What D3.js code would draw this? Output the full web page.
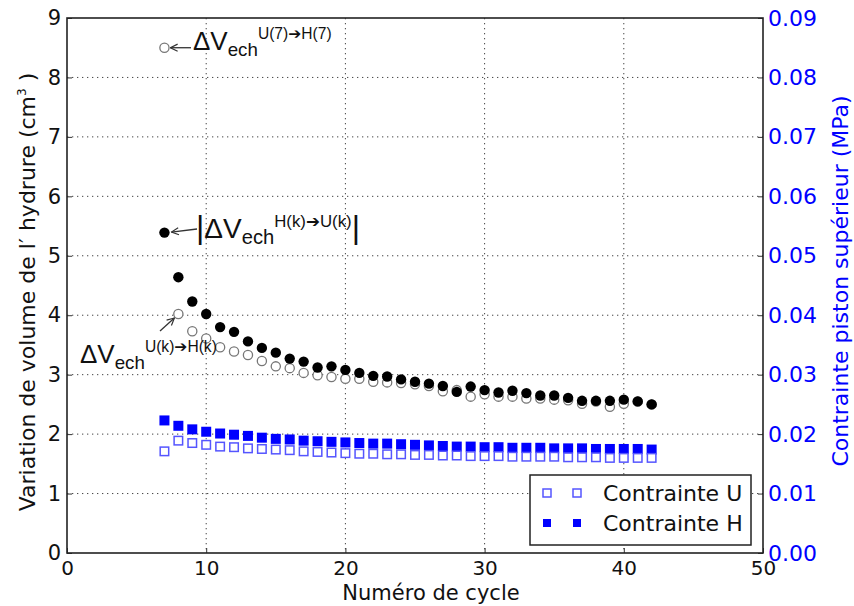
<!DOCTYPE html>
<html><head><meta charset="utf-8">
<script src="https://cdn.jsdelivr.net/npm/d3@7"></script>
<style>body{margin:0;background:#fff}svg{display:block}</style>
</head><body>
<script>
const cycles = d3.range(7, 43);
const dvHU = [5.39,4.64,4.23,4.02,3.80,3.72,3.56,3.45,3.37,3.27,3.22,3.12,3.14,3.08,3.03,2.98,2.97,2.92,2.88,2.85,2.81,2.71,2.80,2.74,2.70,2.73,2.69,2.65,2.65,2.61,2.56,2.56,2.56,2.58,2.55,2.50];
const dvUH = [8.50,4.02,3.73,3.61,3.46,3.39,3.33,3.23,3.14,3.11,3.03,2.99,2.96,2.93,2.93,2.88,2.87,2.86,2.84,2.81,2.72,2.74,2.63,2.67,2.63,2.63,2.60,2.60,2.58,2.57,2.51,2.55,2.46,2.51,2.55,2.50];
const stressH = [0.0223,0.0214,0.0208,0.0204,0.0201,0.0199,0.0197,0.0194,0.0192,0.0191,0.0189,0.0188,0.0187,0.0186,0.0185,0.0184,0.0184,0.0183,0.0182,0.0181,0.0180,0.0179,0.0179,0.0178,0.0178,0.0177,0.0177,0.0177,0.0176,0.0176,0.0176,0.0175,0.0175,0.0175,0.0175,0.0174];
const stressU = [0.0171,0.0189,0.0185,0.0182,0.0179,0.0178,0.0176,0.0175,0.0174,0.0173,0.0171,0.0170,0.0169,0.0168,0.0167,0.0167,0.0166,0.0166,0.0165,0.0165,0.0164,0.0164,0.0163,0.0163,0.0163,0.0162,0.0162,0.0162,0.0162,0.0161,0.0161,0.0161,0.0160,0.0160,0.0160,0.0160];
const xTicks = [0,10,20,30,40,50];
const yTicks = [0,1,2,3,4,5,6,7,8,9];
const y2Ticks = [0,0.01,0.02,0.03,0.04,0.05,0.06,0.07,0.08,0.09];
const legendLabels = ["Contrainte U","Contrainte H"];

const W=854,H=606, L=67,R=763,T=18,B=553;
const svg=d3.select("body").append("svg").attr("width",W).attr("height",H);
const x=d3.scaleLinear().domain([0,50]).range([L,R]);
const y=d3.scaleLinear().domain([0,9]).range([B,T]);
const y2=d3.scaleLinear().domain([0,0.09]).range([B,T]);

const defs=svg.append("defs");
defs.append("marker").attr("id","ah").attr("viewBox","0 0 10 10").attr("refX",9).attr("refY",5)
 .attr("markerWidth",9).attr("markerHeight",9).attr("orient","auto").attr("markerUnits","userSpaceOnUse")
 .append("path").attr("d","M1,1 L9,5 L1,9").attr("fill","none").attr("stroke","#333").attr("stroke-width",1.3);

// grid
const g=svg.append("g");
g.selectAll(".gx").data(xTicks.slice(1,-1)).join("line").attr("x1",d=>x(d)).attr("x2",d=>x(d)).attr("y1",T).attr("y2",B)
 .attr("stroke","#444").attr("stroke-width",1).attr("stroke-dasharray","1.3,3.7");
g.selectAll(".gy").data(yTicks.slice(1,-1)).join("line").attr("y1",d=>y(d)).attr("y2",d=>y(d)).attr("x1",L).attr("x2",R)
 .attr("stroke","#444").attr("stroke-width",1).attr("stroke-dasharray","1.3,3.7");

// axes
const fTick="'DejaVu Sans',sans-serif";
const ax=svg.append("g").attr("transform",`translate(0,${B})`).call(d3.axisBottom(x).tickValues(xTicks).tickSize(-5).tickPadding(5).tickFormat(d3.format("d")));
ax.select(".domain").remove();
ax.selectAll("text").attr("font-family",fTick).attr("font-size",20).attr("fill","#111").attr("dy","0.85em");
ax.selectAll("line").attr("stroke","#333");
const ay=svg.append("g").attr("transform",`translate(${L},0)`).call(d3.axisLeft(y).tickValues(yTicks).tickSize(-5).tickPadding(6).tickFormat(d3.format("d")));
ay.select(".domain").remove();
ay.selectAll("text").attr("font-family",fTick).attr("font-size",21).attr("fill","#111");
ay.selectAll("line").attr("stroke","#333");
const ay2=svg.append("g").attr("transform",`translate(${R},0)`).call(d3.axisRight(y2).tickValues(y2Ticks).tickSize(-5).tickPadding(5).tickFormat(d3.format(".2f")));
ay2.select(".domain").remove();
ay2.selectAll("text").attr("font-family",fTick).attr("font-size",22).attr("fill","#0000ff");
ay2.selectAll("line").attr("stroke","#333");

// data: squares
const s=10;
svg.append("g").selectAll("rect").data(cycles).join("rect")
 .attr("x",(d)=>x(d)-s/2).attr("y",(d,i)=>y2(stressH[i])-s/2).attr("width",s).attr("height",s).attr("fill","#0000ff");
svg.append("g").selectAll("rect").data(cycles).join("rect")
 .attr("x",(d)=>x(d)-s/2+0.75).attr("y",(d,i)=>y2(stressU[i])-s/2+0.75).attr("width",s-1.5).attr("height",s-1.5)
 .attr("fill","#fff").attr("stroke","#5555ff").attr("stroke-width",1.5);
// circles
svg.append("g").selectAll("circle").data(cycles).join("circle")
 .attr("cx",d=>x(d)).attr("cy",(d,i)=>y(dvUH[i])).attr("r",4.6).attr("fill","#fff").attr("stroke","#777").attr("stroke-width",1.3);
svg.append("g").selectAll("circle").data(cycles).join("circle")
 .attr("cx",d=>x(d)).attr("cy",(d,i)=>y(dvHU[i])).attr("r",5.2).attr("fill","#000");

// frame
svg.append("rect").attr("x",L).attr("y",T).attr("width",R-L).attr("height",B-T).attr("fill","none").attr("stroke","#222").attr("stroke-width",1.6);

// legend
const lg=svg.append("g");
lg.append("rect").attr("x",530).attr("y",475).attr("width",221).attr("height",70).attr("fill","#fff").attr("stroke","#222").attr("stroke-width",1.5);
legendLabels.forEach((lab,i)=>{
  const cy=493+i*30;
  [547,577].forEach(cx=>{
    lg.append("rect").attr("x",cx-4).attr("y",cy-4).attr("width",8).attr("height",8)
      .attr("fill",i===0?"#fff":"#0000ff").attr("stroke",i===0?"#5555ff":"none").attr("stroke-width",1.5);
  });
  lg.append("text").attr("x",603).attr("y",cy+8).attr("font-family",fTick).attr("font-size",22).attr("fill","#111").text(lab);
});

// axis titles
svg.append("text").attr("x",431).attr("y",600).attr("text-anchor","middle")
 .attr("font-family",fTick).attr("font-size",21).attr("fill","#111").text("Numéro de cycle");
const yl=svg.append("text").attr("transform","translate(35,292) rotate(-90)").attr("text-anchor","middle")
 .attr("font-family",fTick).attr("font-size",22).attr("fill","#111");
yl.append("tspan").text("Variation de volume de l\u2032 hydrure (cm");
yl.append("tspan").attr("font-size",12).attr("dy",-9).text("3");
yl.append("tspan").attr("dy",9).text(" )");
svg.append("text").attr("transform","translate(848,281) rotate(-90)").attr("text-anchor","middle")
 .attr("font-family",fTick).attr("font-size",22).attr("fill","#0000ff").text("Contrainte piston supérieur (MPa)");

// annotations
const fA="'Liberation Sans',Arial,sans-serif";
function ann(x0,yb,big,sub,sup,bars){
  const t=svg.append("text").attr("x",x0).attr("y",yb).attr("font-family",fA).attr("fill","#111");
  if(bars) t.append("tspan").attr("font-size",big+4).text("|");
  t.append("tspan").attr("font-size",big).text("\u0394V");
  t.append("tspan").attr("font-size",big*0.72).attr("dy",6).text(sub);
  const fs=big*0.6;
  t.append("tspan").attr("font-size",fs).attr("dy",-17).text(sup[0]);
  t.append("tspan").attr("font-size",fs).attr("font-family","'DejaVu Sans',sans-serif").text("\u2794");
  t.append("tspan").attr("font-size",fs).text(sup[1]);
  if(bars) t.append("tspan").attr("font-size",big+4).attr("dy",11).text("|");
}
ann(193,50,26,"ech",["U(7)","H(7)"],false);
svg.append("line").attr("x1",191).attr("y1",y(8.5)).attr("x2",x(7)+6).attr("y2",y(8.5)).attr("stroke","#333").attr("stroke-width",1.3).attr("marker-end","url(#ah)");
ann(196,238,28,"ech",["H(k)","U(k)"],true);
svg.append("line").attr("x1",197).attr("y1",229).attr("x2",x(7)+7).attr("y2",y(dvHU[0])-0.5).attr("stroke","#333").attr("stroke-width",1.3).attr("marker-end","url(#ah)");
ann(80,363,26,"ech",["U(k)","H(k)"],false);
svg.append("line").attr("x1",160).attr("y1",331).attr("x2",x(8)-4).attr("y2",y(dvUH[1])+4).attr("stroke","#333").attr("stroke-width",1.3).attr("marker-end","url(#ah)");
</script>
</body></html>
